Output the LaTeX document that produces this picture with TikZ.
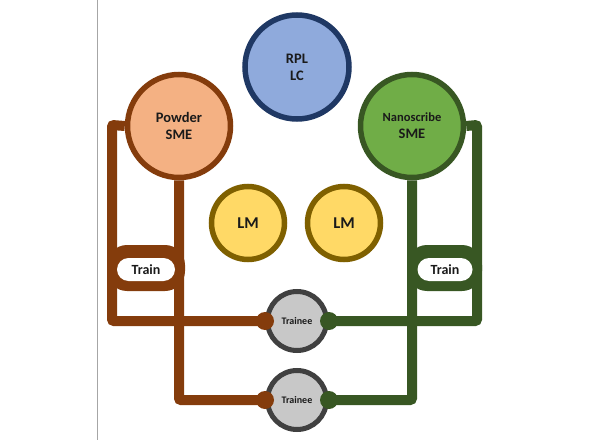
\documentclass[tikz,border=0pt]{standalone}
\usepackage{fontspec}
\setmainfont{Carlito}
\usetikzlibrary{backgrounds}
\definecolor{brn}{HTML}{843C0C}
\definecolor{grn}{HTML}{385723}
\definecolor{powfill}{HTML}{F4B183}
\definecolor{nanofill}{HTML}{70AD47}
\definecolor{rplfill}{HTML}{8FAADC}
\definecolor{rplline}{HTML}{1F3864}
\definecolor{lmfill}{HTML}{FFD966}
\definecolor{lmline}{HTML}{7F6000}
\definecolor{trfill}{HTML}{C8C8C8}
\definecolor{trline}{HTML}{404040}
\definecolor{txt}{HTML}{1A1A1A}
\tikzset{
  circ/.style={circle, line width=5.5pt, inner sep=0pt, align=center, text=txt, font=\fontsize{14.5}{17}\selectfont\bfseries},
  trainee/.style={circle, line width=5pt, draw=trline, fill=trfill, minimum size=59pt, inner sep=0pt, text=txt, font=\fontsize{10}{12}\selectfont\bfseries},
  trainframe/.style={rectangle, rounded corners=20pt, minimum height=46pt, inner sep=0pt},
  trainlabel/.style={rectangle, rounded corners=11.5pt, fill=white, minimum height=23pt, inner sep=0pt, text=txt, font=\fontsize{14}{16}\selectfont\bfseries},
  bline/.style={draw=brn, line width=10pt, rounded corners=2pt},
  gline/.style={draw=grn, line width=10pt, rounded corners=2pt}
}
\begin{document}
\begin{tikzpicture}[x=1pt,y=-1pt]
\useasboundingbox (0,0) rectangle (592,444);
\draw[gray!70, line width=0.8pt] (97,0) -- (97,440);

\node[circ, draw=rplline, fill=rplfill, minimum size=104pt] (rpl) at (297,67) {RPL\\LC};
\node[circ, draw=brn, fill=powfill, minimum size=103pt] (pow) at (179,126) {Powder\\SME};
\node[circ, draw=grn, fill=nanofill, minimum size=103pt] (nano) at (412,126) {{\fontsize{12.5}{15}\selectfont Nanoscribe}\\SME};
\node[circ, draw=lmline, fill=lmfill, minimum size=73pt, font=\fontsize{16.5}{19}\selectfont\bfseries] (lm1) at (248,223) {LM};
\node[circ, draw=lmline, fill=lmfill, minimum size=73pt, font=\fontsize{16.5}{19}\selectfont\bfseries] (lm2) at (344,223) {LM};

\node[trainee] (t1) at (297,321) {Trainee};
\node[trainee] (t2) at (297,400) {Trainee};

\coordinate (bo) at (112,125);
\coordinate (go) at (477,125);

\begin{scope}[on background layer]
\draw[bline] (pow.west) -- (bo) |- (t1.west);
\draw[bline] (pow.south) |- (t2.west);
\draw[gline] (nano.east) -- (go) |- (t1.east);
\draw[gline] (nano.south) |- (t2.east);
\end{scope}

\node[trainframe, fill=brn, minimum width=78pt] (tf1) at (146,268) {};
\node[trainlabel, minimum width=58pt] (tr1) at (146,269.5) {Train};
\node[trainframe, fill=grn, minimum width=75pt] (tf2) at (444.5,268) {};
\node[trainlabel, minimum width=55pt] (tr2) at (445,269.5) {Train};

\fill[brn] (t1.west) circle (9pt);
\fill[brn] (t2.west) circle (9pt);
\fill[grn] (t1.east) circle (9pt);
\fill[grn] (t2.east) circle (9pt);
\end{tikzpicture}
\end{document}
